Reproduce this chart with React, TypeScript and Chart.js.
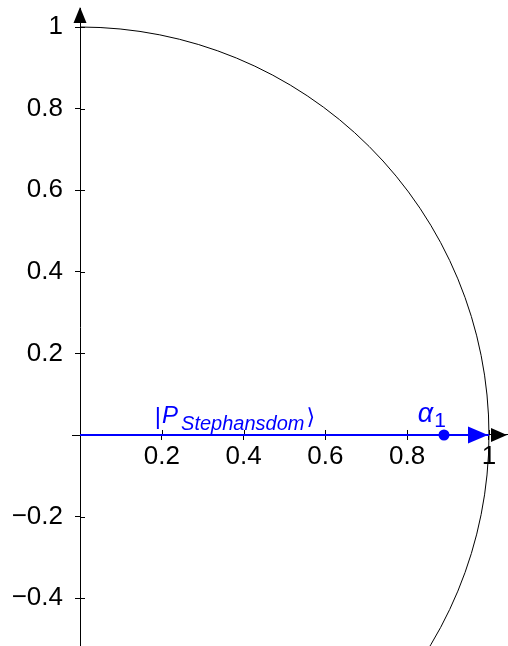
import React, { useEffect, useRef } from "react";
import { Chart, registerables } from "chart.js";

Chart.register(...registerables);

// ---- data ----
const xTickValues = [0.2, 0.4, 0.6, 0.8, 1];
const yTickValues = [-0.4, -0.2, 0.2, 0.4, 0.6, 0.8, 1];
const xRange = [0, 1.0465];
const yRange = [-0.5172, 1.0466];
const circleRadius = 1;
const vectorStart = { x: 0, y: 0 };
const vectorEnd = { x: 1, y: 0 };
const alphaPoint = { x: 0.89, y: 0 };
const ketMain = "P";
const ketSub = "Stephansdom";
const alphaMain = "α";
const alphaSub = "1";

// ---- label anchors (data coords) ----
const ketAnchor = { x: 0.183, y: 0.0 };
const alphaAnchor = { x: 0.826, y: 0.032 };

const BLUE = "#0000ff";
const FONT = '"Liberation Sans", "DejaVu Sans", sans-serif';

const fmt = (v: number) => {
  const r = Math.round(v * 10) / 10;
  return String(r).replace("-", "\u2212");
};

const overlay = {
  id: "overlay",
  beforeDatasetsDraw(chart: any) {
    const { ctx, chartArea } = chart;
    const xs = chart.scales.x;
    const ys = chart.scales.y;
    const cx = xs.getPixelForValue(0);
    const cy = ys.getPixelForValue(0);
    const rx = xs.getPixelForValue(circleRadius) - cx;
    const ry = cy - ys.getPixelForValue(circleRadius);
    ctx.save();
    ctx.beginPath();
    ctx.rect(chartArea.left, chartArea.top, chartArea.right - chartArea.left, chartArea.bottom - chartArea.top);
    ctx.clip();
    ctx.beginPath();
    ctx.ellipse(cx, cy, rx, ry, 0, 0, Math.PI * 2);
    ctx.strokeStyle = "#000";
    ctx.lineWidth = 1;
    ctx.stroke();
    ctx.restore();

    // inward tick marks + axis extension
    ctx.save();
    ctx.strokeStyle = "#000";
    ctx.lineWidth = 1;
    ctx.beginPath();
    for (const v of xTickValues) {
      const px = Math.round(xs.getPixelForValue(v)) + 0.5;
      ctx.moveTo(px, cy - 5);
      ctx.lineTo(px, cy);
    }
    for (const v of yTickValues) {
      const py = Math.round(ys.getPixelForValue(v)) + 0.5;
      ctx.moveTo(cx, py);
      ctx.lineTo(cx + 5, py);
    }
    const cyr = Math.round(cy) + 0.5;
    ctx.moveTo(cx - 8, cyr);
    ctx.lineTo(cx, cyr);
    ctx.stroke();
    ctx.restore();
  },
  afterDraw(chart: any) {
    const { ctx, chartArea } = chart;
    const xs = chart.scales.x;
    const ys = chart.scales.y;
    const ox = xs.getPixelForValue(0);
    const oy = ys.getPixelForValue(0);
    ctx.save();
    // black axis arrows
    ctx.fillStyle = "#000";
    ctx.beginPath();
    ctx.moveTo(chartArea.right - 1, oy);
    ctx.lineTo(chartArea.right - 17, oy - 7);
    ctx.lineTo(chartArea.right - 17, oy + 7);
    ctx.closePath();
    ctx.fill();
    ctx.beginPath();
    ctx.moveTo(ox, chartArea.top - 1);
    ctx.lineTo(ox - 6.5, chartArea.top + 15);
    ctx.lineTo(ox + 6.5, chartArea.top + 15);
    ctx.closePath();
    ctx.fill();
    // blue arrow head
    const ex = xs.getPixelForValue(vectorEnd.x);
    const ey = ys.getPixelForValue(vectorEnd.y);
    ctx.fillStyle = BLUE;
    ctx.beginPath();
    ctx.moveTo(ex - 1, ey);
    ctx.lineTo(ex - 21, ey - 8.5);
    ctx.lineTo(ex - 21, ey + 8.5);
    ctx.closePath();
    ctx.fill();

    // alpha label
    ctx.fillStyle = BLUE;
    ctx.textBaseline = "alphabetic";
    ctx.textAlign = "left";
    const ax = xs.getPixelForValue(alphaAnchor.x);
    const ay = ys.getPixelForValue(alphaAnchor.y);
    ctx.font = `italic 27px ${FONT}`;
    ctx.fillText(alphaMain, ax, ay);
    const aw = ctx.measureText(alphaMain).width;
    ctx.font = `21px ${FONT}`;
    ctx.fillText(alphaSub, ax + aw + 1, ay + 5);

    // ket label
    let kx = xs.getPixelForValue(ketAnchor.x);
    const ky = ys.getPixelForValue(ketAnchor.y);
    ctx.font = `24px ${FONT}`;
    ctx.fillText("|", kx, ky - 11);
    kx += ctx.measureText("|").width + 1;
    ctx.font = `italic 24px ${FONT}`;
    ctx.fillText(ketMain, kx, ky - 12);
    kx += ctx.measureText(ketMain).width + 3;
    ctx.font = `italic 20px ${FONT}`;
    ctx.fillText(ketSub, kx, ky - 5);
    kx += ctx.measureText(ketSub).width + 2;
    ctx.font = `22px "DejaVu Sans", ${FONT}`;
    ctx.fillText("\u27E9", kx, ky - 11);
    ctx.restore();
  },
};

export default function App() {
  const ref = useRef<HTMLCanvasElement>(null);
  useEffect(() => {
    document.body.style.margin = "0";
    const canvas = ref.current!;
    const chart = new Chart(canvas, {
      type: "scatter",
      data: {
        datasets: [
          {
            type: "line",
            data: [vectorStart, vectorEnd],
            borderColor: BLUE,
            borderWidth: 2,
            pointRadius: 0,
            fill: false,
          } as any,
          {
            data: [alphaPoint],
            backgroundColor: BLUE,
            borderColor: BLUE,
            pointRadius: 5.5,
            borderWidth: 0,
          },
        ],
      },
      options: {
        responsive: false,
        animation: false,
        layout: { autoPadding: false, padding: { top: 8, left: 0, right: 0, bottom: 0 } } as any,
        plugins: { legend: { display: false }, tooltip: { enabled: false } },
        scales: {
          x: {
            type: "linear",
            min: xRange[0],
            max: xRange[1],
            position: { y: 0 } as any,
            afterBuildTicks: (axis: any) => {
              axis.ticks = xTickValues.map((v) => ({ value: v }));
            },
            afterFit: (axis: any) => {
              axis.paddingLeft = 0;
              axis.paddingRight = 0;
              axis.paddingTop = 0;
              axis.paddingBottom = 0;
            },
            grid: { drawOnChartArea: false, drawTicks: true, tickLength: 5, color: "#000" },
            border: { display: true, color: "#000", width: 1 },
            ticks: {
              autoSkip: false,
              maxRotation: 0,
              padding: 1,
              color: "#000",
              font: { family: FONT, size: 26 },
              callback: (v: any) => fmt(Number(v)),
            },
          },
          y: {
            type: "linear",
            min: yRange[0],
            max: yRange[1],
            position: "left",
            afterBuildTicks: (axis: any) => {
              axis.ticks = yTickValues.map((v) => ({ value: v }));
            },
            afterFit: (axis: any) => {
              axis.width = 80;
              axis.paddingTop = 0;
              axis.paddingBottom = 0;
            },
            grid: { drawOnChartArea: false, drawTicks: true, tickLength: 5, color: "#000" },
            border: { display: true, color: "#000", width: 1 },
            ticks: {
              autoSkip: false,
              padding: 12,
              color: "#000",
              font: { family: FONT, size: 26 },
              callback: (v: any) => fmt(Number(v)),
            },
          },
        },
      },
      plugins: [overlay],
    });
    return () => chart.destroy();
  }, []);
  return <canvas ref={ref} width={508} height={646} style={{ display: "block" }} />;
}
